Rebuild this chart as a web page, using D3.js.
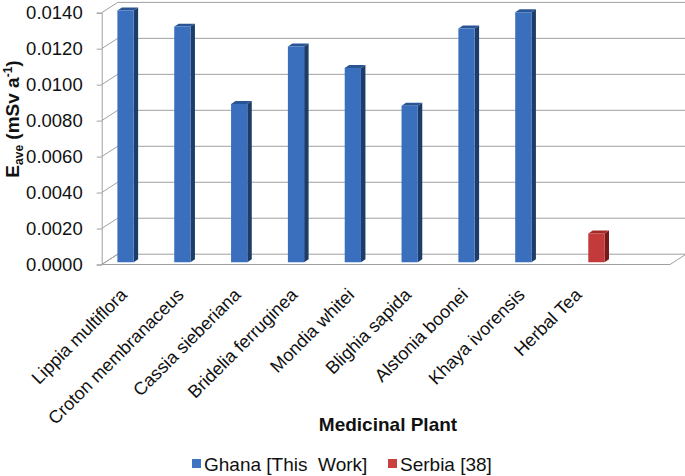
<!DOCTYPE html>
<html>
<head>
<meta charset="utf-8">
<script src="https://cdn.jsdelivr.net/npm/d3@7/dist/d3.min.js"></script>
<style>
  body { margin: 0; padding: 0; background: #fff; }
  svg { display: block; font-family: "Liberation Sans", Arial, sans-serif; }
  .pre { white-space: pre; }
</style>
</head>
<body>
<script>
// chart values
var categories = ["Lippia multiflora", "Croton membranaceus", "Cassia sieberiana",
  "Bridelia ferruginea", "Mondia whitei", "Blighia sapida", "Alstonia boonei",
  "Khaya ivorensis", "Herbal Tea"];
var ghana = [0.0140, 0.0131, 0.0088, 0.0120, 0.0108, 0.0087, 0.0130, 0.0139, null];
var serbia = [null, null, null, null, null, null, null, null, 0.0016];
var seriesNames = ["Ghana [This  Work]", "Serbia [38]"];
var yTicks = [0, 0.002, 0.004, 0.006, 0.008, 0.010, 0.012, 0.014];

var width = 685, height = 476;
var depthX = 16, depthY = -10.3;   // offset from front to back wall
var f0 = 0.22, f1 = 0.5;           // bar depth (fraction of floor depth)

var colors = [
  {front: "#3a6fbe", side: "#1c3c6a", top: "#2a5595", key: "#3f74c0"},
  {front: "#c23a3a", side: "#781818", top: "#a32828", key: "#c9403f"}
];

var svg = d3.select("body").append("svg")
  .attr("width", width).attr("height", height);

// one spare empty slot at the right end, as in the original sheet
var slots = categories.concat([""]);

var x = d3.scaleBand().domain(slots).range([101.7, 670]).paddingInner(0).paddingOuter(0);
var inner = d3.scaleBand().domain([0, 1]).range([0, x.bandwidth()]).paddingInner(0).paddingOuter(0.75);
var y = d3.scaleLinear().domain([0, 0.014]).range([264.5, 12.7]);

var x0 = x.range()[0], x1 = x.range()[1];

function pt(px, v, f) {
  return [px + f * depthX, y(v) + f * depthY];
}

var grid = "#a0a0a0";

// floor
svg.append("polygon")
  .attr("points", [pt(x0, 0, 0), pt(x1, 0, 0), pt(x1, 0, 1), pt(x0, 0, 1)].join(" "))
  .attr("fill", "#fff").attr("stroke", grid).attr("stroke-width", 1);

// back wall gridlines + side wall diagonals
yTicks.forEach(function(t) {
  if (t > 0) {
    var a = pt(x0, t, 1);
    svg.append("line").attr("x1", a[0]).attr("y1", a[1]).attr("x2", width + 5).attr("y2", a[1])
      .attr("stroke", grid);
  }
  var b = pt(x0, t, 0), c = pt(x0, t, 1);
  svg.append("line").attr("x1", b[0]).attr("y1", b[1]).attr("x2", c[0]).attr("y2", c[1])
    .attr("stroke", grid);
});

// front value axis
var yAxis = d3.axisLeft(y).tickValues(yTicks).tickFormat(d3.format(".4f")).tickSize(5).tickPadding(14);
var ag = svg.append("g").attr("transform", "translate(" + x0 + ",0)").call(yAxis);
ag.select(".domain").attr("stroke", grid);
ag.selectAll(".tick line").attr("stroke", grid);
ag.selectAll(".tick text").attr("fill", "#111").style("font-size", "18.5px")
  .style("font-family", "'Liberation Sans', Arial, sans-serif");

// bars
function drawBar(cat, s, v) {
  var xa = x(cat) + inner(s), xb = xa + inner.bandwidth();
  var c = colors[s];
  var g = svg.append("g");
  g.append("polygon").attr("fill", c.side)
    .attr("points", [pt(xb, v, f0), pt(xb, v, f1), pt(xb, 0, f1), pt(xb, 0, f0)].join(" "));
  g.append("polygon").attr("fill", c.top)
    .attr("points", [pt(xa, v, f0), pt(xb, v, f0), pt(xb, v, f1), pt(xa, v, f1)].join(" "));
  g.append("polygon").attr("fill", c.front)
    .attr("points", [pt(xa, v, f0), pt(xb, v, f0), pt(xb, 0, f0), pt(xa, 0, f0)].join(" "));
}
categories.forEach(function(cat, i) {
  if (ghana[i] != null) drawBar(cat, 0, ghana[i]);
  if (serbia[i] != null) drawBar(cat, 1, serbia[i]);
});

// category labels
svg.append("g").selectAll("text").data(categories).enter().append("text")
  .attr("transform", function(d) {
    return "translate(" + (x(d) + x.bandwidth() / 2 - 2) + ",296) rotate(-45)";
  })
  .attr("text-anchor", "end")
  .style("font-size", "18px").attr("fill", "#111")
  .text(function(d) { return d; });

// axis titles
svg.append("text").attr("x", 388).attr("y", 431).attr("text-anchor", "middle")
  .style("font-size", "19px").style("font-weight", "bold").attr("fill", "#111")
  .text("Medicinal Plant");

var yt = svg.append("text").attr("transform", "translate(19,119) rotate(-90)")
  .attr("text-anchor", "middle").style("font-size", "19px").style("font-weight", "bold")
  .attr("fill", "#111");
yt.append("tspan").text("E");
yt.append("tspan").attr("dy", 4).style("font-size", "12px").text("ave");
yt.append("tspan").attr("dy", -4).attr("class", "pre").text(" (mSv a");
yt.append("tspan").attr("dy", -7).style("font-size", "12px").text("-1");
yt.append("tspan").attr("dy", 7).text(")");

// legend
var legendX = [192, 388];
seriesNames.forEach(function(n, i) {
  svg.append("rect").attr("x", legendX[i]).attr("y", 459).attr("width", 9).attr("height", 9)
    .attr("fill", colors[i].key);
  svg.append("text").attr("x", legendX[i] + 12).attr("y", 471).attr("class", "pre")
    .style("font-size", "19px").attr("fill", "#111").text(n);
});
</script>
</body>
</html>
